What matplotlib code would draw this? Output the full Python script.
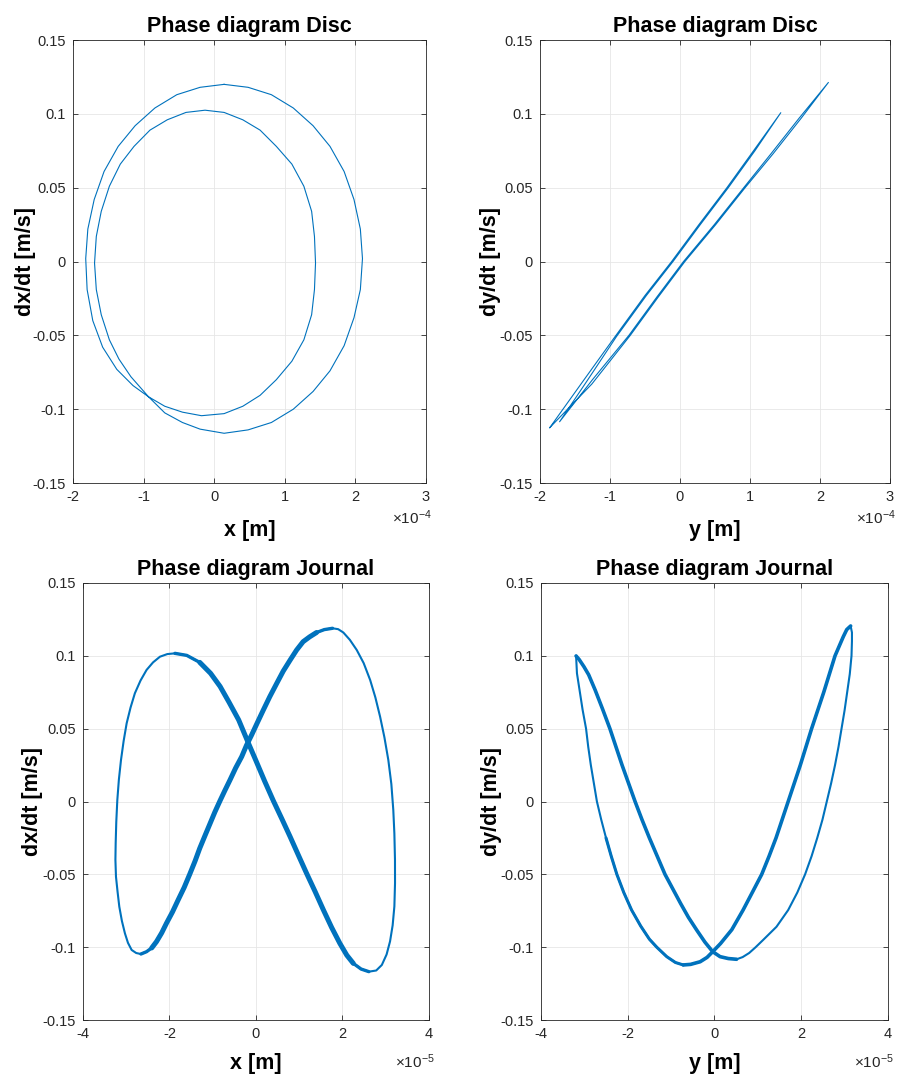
import numpy as np
import matplotlib
matplotlib.use('Agg')
import matplotlib.pyplot as plt
from matplotlib.ticker import FuncFormatter, FormatStrFormatter

plt.rcParams['font.family'] = ['Liberation Sans', 'DejaVu Sans']
plt.rcParams['axes.unicode_minus'] = False
plt.rcParams['mathtext.fontset'] = 'custom'
plt.rcParams['mathtext.rm'] = 'Liberation Sans'
plt.rcParams['mathtext.it'] = 'Liberation Sans:italic'
plt.rcParams['mathtext.bf'] = 'Liberation Sans:bold'

AZUL = '#0072BD'
CINZA = '#262626'

# ---------------- disco: x (unidade 1e-4 m) e dx/dt [m/s] ----------------
# laco externo (topo -> esquerda) ate o cruzamento
disco_x_a = [0.14, -0.20, -0.53, -0.84, -1.12, -1.36, -1.56, -1.70, -1.79, -1.82,
             -1.80, -1.72, -1.58, -1.38, -1.15, -0.93]
disco_dx_a = [0.120, 0.118, 0.113, 0.104, 0.092, 0.078, 0.061, 0.042, 0.022, 0.002,
              -0.019, -0.040, -0.058, -0.073, -0.084, -0.0916]
# laco interno completo, do cruzamento ate o cruzamento
disco_x_b = [-0.70, -0.45, -0.18, 0.14, 0.405, 0.65, 0.88, 1.10, 1.27, 1.38, 1.42, 1.435,
             1.42, 1.38, 1.27, 1.10, 0.88, 0.65, 0.405, 0.14, -0.13, -0.40, -0.665, -0.91,
             -1.136, -1.33, -1.485, -1.60, -1.67, -1.695, -1.67, -1.60, -1.485, -1.35, -1.18, -0.93]
disco_dx_b = [-0.098, -0.102, -0.1044, -0.103, -0.098, -0.0906, -0.080, -0.0675, -0.053, -0.036,
              -0.019, -0.001, 0.017, 0.034, 0.051, 0.066, 0.078, 0.089, 0.096, 0.101, 0.1025,
              0.101, 0.096, 0.089, 0.078, 0.066, 0.051, 0.034, 0.017, -0.001, -0.019, -0.036,
              -0.053, -0.066, -0.078, -0.0916]
# laco externo (fundo -> direita -> topo)
disco_x_c = [-0.70, -0.45, -0.20, 0.14, 0.48, 0.81, 1.12, 1.40, 1.64, 1.84, 1.98, 2.07, 2.10,
             2.07, 1.98, 1.84, 1.64, 1.40, 1.12, 0.81, 0.48, 0.14]
disco_dx_c = [-0.1025, -0.109, -0.1135, -0.1163, -0.114, -0.109, -0.100, -0.088, -0.074, -0.057,
              -0.038, -0.019, 0.002, 0.022, 0.042, 0.061, 0.078, 0.092, 0.104, 0.113, 0.118, 0.120]

# ---------------- disco: y (unidade 1e-4 m) e dy/dt [m/s] ----------------
disco_y = [-1.86, -1.40, -0.93, -0.50, -0.12, 0.27, 0.67, 1.05, 1.44,
           1.07, 0.69, 0.29, -0.10, -0.48, -0.91, -1.33, -1.72,
           -1.25, -0.73, -0.33, 0.05, 0.49, 0.91, 1.30, 1.70, 2.12,
           1.73, 1.33, 0.93, 0.51, 0.07, -0.31, -0.71, -1.26, -1.86]
disco_dy = [-0.1125, -0.082, -0.051, -0.023, 0.0, 0.025, 0.050, 0.075, 0.1008,
            0.075, 0.050, 0.025, 0.0, -0.023, -0.051, -0.081, -0.1085,
            -0.080, -0.050, -0.024, 0.0, 0.025, 0.050, 0.073, 0.097, 0.1213,
            0.097, 0.073, 0.050, 0.025, 0.0, -0.024, -0.050, -0.083, -0.1125]

# ---------------- mancal: x (unidade 1e-5 m) e dx/dt [m/s] ----------------
# diagonal descendente (topo esquerdo -> fundo direito)
mx_desc = [-1.873, -1.60, -1.30, -1.05, -0.83, -0.62, -0.40, -0.18, 0.00, 0.20, 0.40, 0.60,
           0.79, 0.98, 1.17, 1.37, 1.56, 1.75, 1.94, 2.10, 2.25, 2.43, 2.61]
mdx_desc = [0.1017, 0.1003, 0.0955, 0.0880, 0.0790, 0.0680, 0.0560, 0.0404, 0.0280, 0.0140,
            0.0006, -0.0120, -0.0242, -0.0368, -0.0493, -0.0620, -0.0745, -0.0865, -0.0974,
            -0.1055, -0.1111, -0.1150, -0.1168]
# lateral direita
mx_dir = [2.61, 2.78, 2.91, 3.02, 3.10, 3.16, 3.20, 3.215, 3.214, 3.20, 3.175, 3.13, 3.06,
          2.97, 2.87, 2.76, 2.64, 2.49, 2.33, 2.17, 2.02, 1.90, 1.77]
mdx_dir = [-0.1168, -0.1160, -0.1122, -0.1050, -0.0960, -0.0850, -0.0720, -0.0560, -0.0400,
           -0.0220, -0.0058, 0.0120, 0.0285, 0.0440, 0.0582, 0.0715, 0.0834, 0.0950, 0.1040,
           0.1110, 0.1160, 0.1183, 0.1189]
# diagonal ascendente (topo direito -> fundo esquerdo)
mx_asc = [1.77, 1.58, 1.40, 1.24, 1.09, 0.94, 0.79, 0.63, 0.48, 0.32, 0.17, 0.03, -0.10, -0.22,
          -0.33, -0.47, -0.60, -0.72, -0.83, -0.95, -1.06, -1.18, -1.30, -1.41, -1.53, -1.66,
          -1.80, -1.93, -2.07, -2.18, -2.30, -2.41, -2.53, -2.66]
mdx_asc = [0.1189, 0.1180, 0.1160, 0.1130, 0.1097, 0.1040, 0.0971, 0.0895, 0.0811, 0.0720,
           0.0628, 0.0540, 0.0457, 0.0385, 0.0308, 0.0230, 0.0148, 0.0075, 0.0006, -0.0072,
           -0.0150, -0.0235, -0.0321, -0.0410, -0.0498, -0.0590, -0.0676, -0.0758, -0.0836,
           -0.0902, -0.0962, -0.1005, -0.1031, -0.1047]
# lateral esquerda
mx_esq = [-2.66, -2.77, -2.875, -2.96, -3.03, -3.10, -3.16, -3.20, -3.237, -3.25, -3.244, -3.23,
          -3.206, -3.17, -3.121, -3.06, -2.99, -2.90, -2.80, -2.67, -2.53, -2.38, -2.22, -2.05, -1.873]
mdx_esq = [-0.1047, -0.1040, -0.1019, -0.0970, -0.0905, -0.0820, -0.0722, -0.0620, -0.0516,
           -0.0400, -0.0287, -0.0140, 0.0010, 0.0150, 0.0285, 0.0415, 0.0537, 0.0645, 0.0743,
           0.0830, 0.0903, 0.0955, 0.0994, 0.1012, 0.1017]

# ---------------- mancal: y (unidade 1e-5 m) e dy/dt [m/s] ----------------
# ramo externo esquerdo (ponta -> fundo 1)
my_ext_esq = [-3.19, -3.17, -3.11, -3.04, -2.96, -2.91, -2.85, -2.78, -2.71, -2.61, -2.50, -2.38,
              -2.25, -2.09, -1.91, -1.70, -1.50, -1.33, -1.10, -0.90, -0.72]
mdy_ext_esq = [0.0999, 0.088, 0.0765, 0.063, 0.050, 0.0375, 0.025, 0.0125, 0.0, -0.0125, -0.025,
               -0.0375, -0.050, -0.0625, -0.0745, -0.0855, -0.0945, -0.100, -0.1065, -0.1105, -0.1122]
# ramo interno direito (fundo 1 -> ponta direita)
my_int_dir = [-0.72, -0.55, -0.33, -0.17, -0.04, 0.14, 0.40, 0.66, 0.88, 1.09, 1.26, 1.42, 1.56,
              1.70, 1.84, 1.98, 2.11, 2.24, 2.38, 2.52, 2.65, 2.78, 2.97, 3.05, 3.14]
mdy_int_dir = [-0.1122, -0.1118, -0.110, -0.107, -0.1031, -0.0975, -0.088, -0.0745, -0.062, -0.050,
               -0.0375, -0.025, -0.0125, 0.0, 0.0125, 0.025, 0.0375, 0.050, 0.0625, 0.075, 0.0875,
               0.100, 0.1131, 0.118, 0.1205]
# ramo externo direito (ponta direita -> fundo 2)
my_ext_dir = [3.14, 3.17, 3.17, 3.16, 3.12, 3.06, 3.00, 2.93, 2.86, 2.78, 2.69, 2.59, 2.49, 2.37,
              2.24, 2.09, 1.91, 1.70, 1.43, 1.12, 0.95, 0.80, 0.65, 0.51]
mdy_ext_dir = [0.1205, 0.116, 0.110, 0.100, 0.0875, 0.075, 0.0625, 0.050, 0.0375, 0.025, 0.0125,
               0.0, -0.0125, -0.025, -0.0375, -0.050, -0.0625, -0.0745, -0.086, -0.0951, -0.100,
               -0.104, -0.1068, -0.1083]
# ramo interno esquerdo (fundo 2 -> ponta esquerda)
my_int_esq = [0.51, 0.32, 0.13, -0.04, -0.22, -0.41, -0.60, -0.78, -0.96, -1.14, -1.32, -1.50,
              -1.67, -1.83, -1.98, -2.13, -2.27, -2.41, -2.58, -2.75, -2.90, -3.01, -3.12, -3.19]
mdy_int_esq = [-0.1083, -0.1078, -0.1065, -0.1031, -0.0965, -0.0882, -0.0795, -0.070, -0.060,
               -0.050, -0.0375, -0.025, -0.0125, 0.0, 0.0125, 0.025, 0.0375, 0.050, 0.0635,
               0.0765, 0.087, 0.0926, 0.0975, 0.0999]

y_ticks = [-0.15, -0.1, -0.05, 0, 0.05, 0.1, 0.15]


def juntar(*partes):
    return np.concatenate([np.asarray(p, dtype=float) for p in partes])


def formatar(ax, titulo, xlabel, ylabel, xmin, xmax, passo, expoente, pos_ylabel, pos_xlabel, desloc_fator):
    escala = 10.0 ** expoente
    ax.set_xlim(xmin * escala, xmax * escala)
    ax.set_ylim(-0.15, 0.15)
    ax.set_xticks(np.arange(xmin, xmax + passo, passo) * escala)
    ax.set_yticks(y_ticks)
    ax.xaxis.set_major_formatter(FuncFormatter(lambda v, p: '%g' % round(v / escala, 6)))
    ax.yaxis.set_major_formatter(FormatStrFormatter('%g'))
    ax.tick_params(direction='in', top=True, right=True, length=3.5, width=0.6,
                   colors=CINZA, labelsize=10.5, pad=5)
    ax.grid(True, color='#e6e6e6', linewidth=0.6)
    ax.set_axisbelow(True)
    for s in ax.spines.values():
        s.set_color(CINZA)
        s.set_linewidth(0.6)
    ax.set_title(titulo, fontsize=15.5, fontweight='bold', pad=6)
    ax.set_xlabel(xlabel, fontsize=15.5, fontweight='bold')
    ax.set_ylabel(ylabel, fontsize=15.5, fontweight='bold')
    ax.yaxis.set_label_coords(pos_ylabel, 0.5)
    ax.xaxis.set_label_coords(0.5, pos_xlabel)
    # fator de escala do eixo x
    ax.annotate(r'$\times10^{%d}$' % expoente, xy=(1, 0), xycoords='axes fraction',
                xytext=(4, desloc_fator), textcoords='offset points', ha='right', va='top',
                fontsize=11, color=CINZA)


fig = plt.figure(figsize=(8.98, 10.77), dpi=100)
ax1 = fig.add_axes([0.0813, 0.5515, 0.3931, 0.4113])
ax2 = fig.add_axes([0.6013, 0.5515, 0.3898, 0.4113])
ax3 = fig.add_axes([0.0924, 0.0529, 0.3853, 0.4058])
ax4 = fig.add_axes([0.6024, 0.0529, 0.3864, 0.4058])

# disco x
ax1.plot(juntar(disco_x_a, disco_x_b, disco_x_c) * 1e-4, juntar(disco_dx_a, disco_dx_b, disco_dx_c),
         color=AZUL, lw=0.8)
formatar(ax1, 'Phase diagram Disc', 'x [m]', 'dx/dt [m/s]', -2, 3, 1, -4, -0.106, -0.083, -18)

# disco y
ax2.plot(np.array(disco_y) * 1e-4, disco_dy, color=AZUL, lw=0.8)
formatar(ax2, 'Phase diagram Disc', 'y [m]', 'dy/dt [m/s]', -2, 3, 1, -4, -0.110, -0.083, -18)

# mancal x: laterais finas, diagonais grossas
ax3.plot(juntar(mx_desc, mx_dir, mx_asc, mx_esq) * 1e-5, juntar(mdx_desc, mdx_dir, mdx_asc, mdx_esq),
         color=AZUL, lw=1.5)
ax3.plot(np.array(mx_desc) * 1e-5, mdx_desc, color=AZUL, lw=2.4, solid_capstyle='round')
ax3.plot(np.array(mx_asc) * 1e-5, mdx_asc, color=AZUL, lw=2.4, solid_capstyle='round')
ax3.plot(np.array(mx_desc[2:21]) * 1e-5, mdx_desc[2:21], color=AZUL, lw=3.6, solid_capstyle='round')
ax3.plot(np.array(mx_asc[2:32]) * 1e-5, mdx_asc[2:32], color=AZUL, lw=3.6, solid_capstyle='round')
formatar(ax3, 'Phase diagram Journal', 'x [m]', 'dx/dt [m/s]', -4, 4, 2, -5, -0.116, -0.075, -23)

# mancal y: ramos internos mais grossos
ax4.plot(juntar(my_ext_esq, my_int_dir, my_ext_dir, my_int_esq) * 1e-5,
         juntar(mdy_ext_esq, mdy_int_dir, mdy_ext_dir, mdy_int_esq), color=AZUL, lw=1.5)
ax4.plot(np.array(my_int_dir) * 1e-5, mdy_int_dir, color=AZUL, lw=2.6, solid_capstyle='round')
ax4.plot(np.array(my_int_esq) * 1e-5, mdy_int_esq, color=AZUL, lw=2.6, solid_capstyle='round')
ax4.plot(np.array(my_ext_esq[10:]) * 1e-5, mdy_ext_esq[10:], color=AZUL, lw=2.2, solid_capstyle='round')
formatar(ax4, 'Phase diagram Journal', 'y [m]', 'dy/dt [m/s]', -4, 4, 2, -5, -0.112, -0.075, -23)

fig.savefig('out.png', dpi=100)
